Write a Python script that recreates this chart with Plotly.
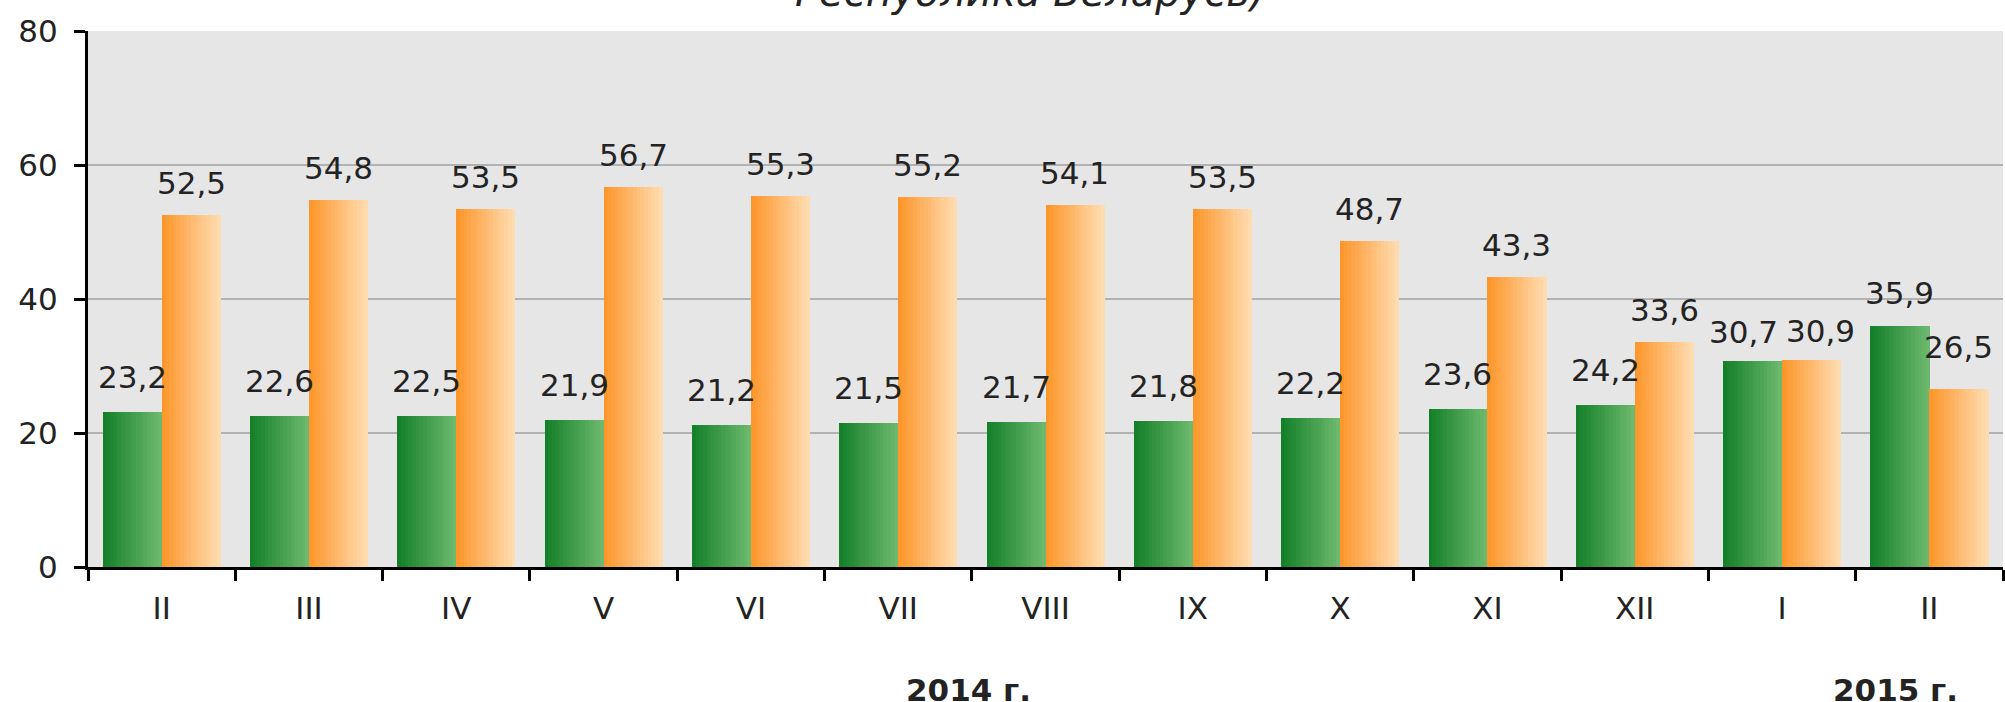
import plotly.graph_objects as go

# ---- data ----
months = ["II", "III", "IV", "V", "VI", "VII", "VIII", "IX", "X", "XI", "XII", "I", "II"]
green_vals = [23.2, 22.6, 22.5, 21.9, 21.2, 21.5, 21.7, 21.8, 22.2, 23.6, 24.2, 30.7, 35.9]
orange_vals = [52.5, 54.8, 53.5, 56.7, 55.3, 55.2, 54.1, 53.5, 48.7, 43.3, 33.6, 30.9, 26.5]
year_labels = ["2014 г.", "2015 г."]
year_pos = [5.48, 11.77]
title_text = "Республика Беларусь)"
y_ticks = [0, 20, 40, 60, 80]

# ---- style ----
FONT = "DejaVu Sans"
TXT = "#232323"
BAR_W = 0.4
N_STRIPS = 16
# (xshift, yshift) tweaks for a few labels, per series (green, orange)
label_nudge = {11: [(-9, -6), (9, -3)], 12: [(0, -2), (0, 10)]}


def hex2rgb(h):
    h = h.lstrip("#")
    return tuple(int(h[i:i + 2], 16) for i in (0, 2, 4))


def mix(a, b, t):
    ca, cb = hex2rgb(a), hex2rgb(b)
    return "rgb(%d,%d,%d)" % tuple(round(ca[i] + (cb[i] - ca[i]) * t) for i in range(3))


idx = list(range(len(months)))
fig = go.Figure()

series = [
    (green_vals, -BAR_W, "#15802a", "#6cb86c"),
    (orange_vals, 0.0, "#fd972c", "#ffdcb0"),
]
for vals, start, c0, c1 in series:
    sw = BAR_W / N_STRIPS
    for k in range(N_STRIPS):
        t = k / (N_STRIPS - 1)
        fig.add_trace(go.Bar(
            x=idx, y=vals, offset=start + k * sw, width=sw * 1.08,
            marker=dict(color=mix(c0, c1, t), line=dict(width=0)),
            showlegend=False, hoverinfo="skip",
        ))

annotations = []
for vals, dx, ysh, which in [(green_vals, -BAR_W / 2, 35, 0), (orange_vals, BAR_W / 2, 32, 1)]:
    for i, v in enumerate(vals):
        nx, ny = label_nudge.get(i, [(0, 0), (0, 0)])[which]
        annotations.append(dict(
            x=i + dx, y=v, xref="x", yref="y", text=f"{v:.1f}".replace(".", ","),
            showarrow=False, yanchor="middle", yshift=ysh + ny, xshift=nx,
            font=dict(family=FONT, size=31, color=TXT),
        ))

for lab, xp in zip(year_labels, year_pos):
    annotations.append(dict(
        x=xp, y=0, xref="x", yref="paper", text=f"<b>{lab}</b>", showarrow=False,
        yanchor="top", yshift=-103,
        font=dict(family=FONT, size=31, color=TXT),
    ))

annotations.append(dict(
    x=(1030 - 88) / (2005 - 88 - 2), xref="paper", y=1, yref="paper",
    text=f"<i>{title_text}</i>",
    showarrow=False, yanchor="bottom", yshift=14, xanchor="center",
    font=dict(family=FONT, size=40, color=TXT),
))

fig.update_layout(
    width=2005, height=702,
    margin=dict(l=88, r=2, t=31, b=135, autoexpand=False),
    paper_bgcolor="white", plot_bgcolor="#e6e6e6",
    barmode="overlay", bargap=0,
    annotations=annotations,
    xaxis=dict(
        range=[-0.5, len(months) - 0.5], tickmode="array", tickvals=idx, ticktext=months,
        ticks="", ticklabelstandoff=12, showgrid=False, zeroline=False, automargin=False,
        showline=True, linecolor="black", linewidth=3,
        tickfont=dict(family=FONT, size=31, color=TXT),
        minor=dict(tickmode="linear", tick0=-0.5, dtick=1, ticks="outside", ticklen=11,
                   tickwidth=3, tickcolor="black", showgrid=False),
    ),
    yaxis=dict(
        range=[0, 80], tickmode="array", tickvals=y_ticks, ticks="outside", ticklen=11,
        tickwidth=3, tickcolor="black", ticklabelstandoff=10, automargin=False,
        showline=True, linecolor="black", linewidth=3,
        showgrid=True, gridcolor="#b2b2b2", gridwidth=2, zeroline=False,
        tickfont=dict(family=FONT, size=31, color=TXT),
    ),
)

fig.write_html(
    "out.html",
    config={"displayModeBar": False},
    post_script="document.body.style.margin='0';document.body.style.overflow='hidden';",
)
